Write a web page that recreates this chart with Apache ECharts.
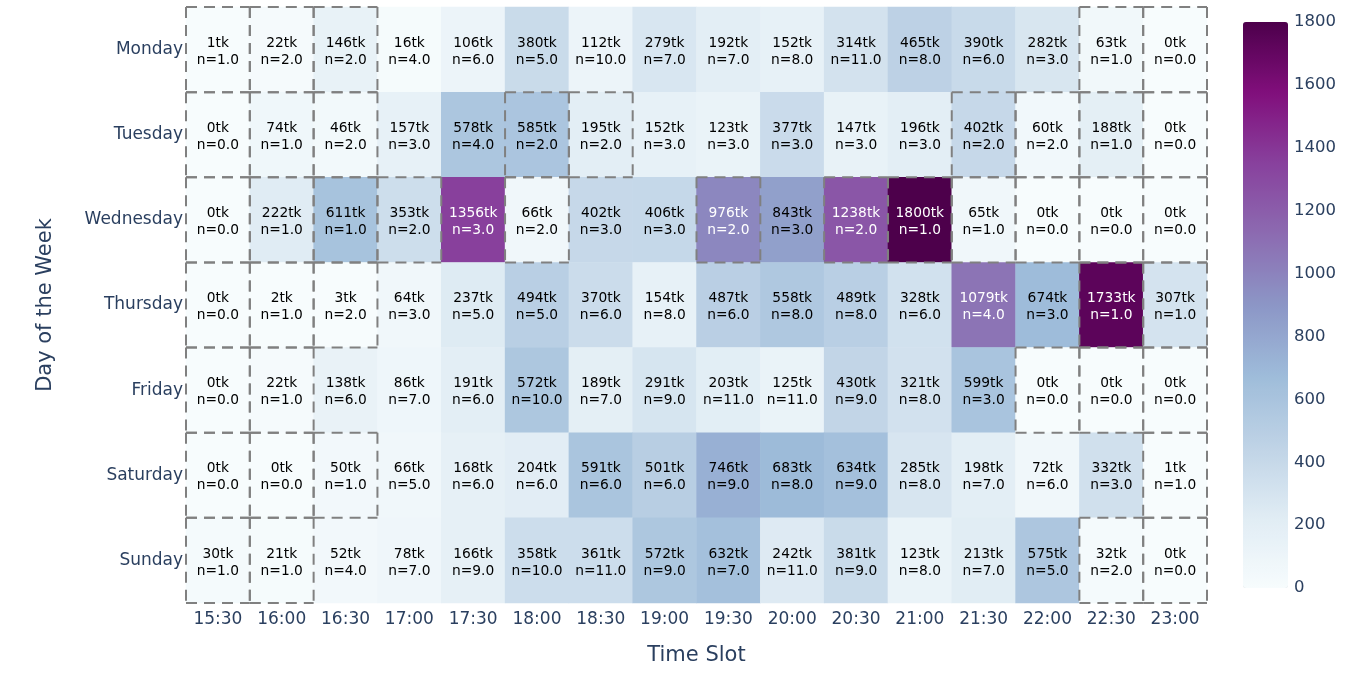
<!DOCTYPE html>
<html>
<head>
<meta charset="utf-8">
<script src="https://cdn.jsdelivr.net/npm/echarts@6/dist/echarts.min.js"></script>
<style>
  html, body { margin: 0; padding: 0; background: #fff; }
  #chart { width: 1348px; height: 678px; }
</style>
</head>
<body>
<div id="chart"></div>
<script>
// time slots along x, days down y
const slots = ['15:30', '16:00', '16:30', '17:00', '17:30', '18:00', '18:30', '19:00',
  '19:30', '20:00', '20:30', '21:00', '21:30', '22:00', '22:30', '23:00']
const days = ['Monday', 'Tuesday', 'Wednesday', 'Thursday', 'Friday', 'Saturday', 'Sunday']

// tokens per cell, one row per day
const tokens = [
  [1, 22, 146, 16, 106, 380, 112, 279, 192, 152, 314, 465, 390, 282, 63, 0],
  [0, 74, 46, 157, 578, 585, 195, 152, 123, 377, 147, 196, 402, 60, 188, 0],
  [0, 222, 611, 353, 1356, 66, 402, 406, 976, 843, 1238, 1800, 65, 0, 0, 0],
  [0, 2, 3, 64, 237, 494, 370, 154, 487, 558, 489, 328, 1079, 674, 1733, 307],
  [0, 22, 138, 86, 191, 572, 189, 291, 203, 125, 430, 321, 599, 0, 0, 0],
  [0, 0, 50, 66, 168, 204, 591, 501, 746, 683, 634, 285, 198, 72, 332, 1],
  [30, 21, 52, 78, 166, 358, 361, 572, 632, 242, 381, 123, 213, 575, 32, 0]
]

// sample counts per cell
const counts = [
  [1, 2, 2, 4, 6, 5, 10, 7, 7, 8, 11, 8, 6, 3, 1, 0],
  [0, 1, 2, 3, 4, 2, 2, 3, 3, 3, 3, 3, 2, 2, 1, 0],
  [0, 1, 1, 2, 3, 2, 3, 3, 2, 3, 2, 1, 1, 0, 0, 0],
  [0, 1, 2, 3, 5, 5, 6, 8, 6, 8, 8, 6, 4, 3, 1, 1],
  [0, 1, 6, 7, 6, 10, 7, 9, 11, 11, 9, 8, 3, 0, 0, 0],
  [0, 0, 1, 5, 6, 6, 6, 6, 9, 8, 9, 8, 7, 6, 3, 1],
  [1, 1, 4, 7, 9, 10, 11, 9, 7, 11, 9, 8, 7, 5, 2, 0]
]

const colorTicks = [0, 200, 400, 600, 800, 1000, 1200, 1400, 1600, 1800]

const BUPU = ['rgb(247,252,253)', 'rgb(224,236,244)', 'rgb(191,211,230)', 'rgb(158,188,218)',
  'rgb(140,150,198)', 'rgb(140,107,177)', 'rgb(136,65,157)', 'rgb(129,15,124)', 'rgb(77,0,75)']
const FONT = 'Verdana, "DejaVu Sans", sans-serif'
const INK = '#2a3f5f'
const LOW_N = 3 // cells with fewer samples get a dashed outline

const cells = []
const sparse = []
days.forEach((d, yi) => {
  slots.forEach((s, xi) => {
    const tk = tokens[yi][xi]
    const n = counts[yi][xi]
    cells.push({
      value: [xi, yi, tk, n],
      label: { color: tk > 900 ? '#fff' : '#000' }
    })
    if (n < LOW_N) sparse.push([xi, yi])
  })
})

const dashStyle = { stroke: '#808080', lineWidth: 2, lineDash: [11, 7] }

const chart = echarts.init(document.getElementById('chart'))

chart.setOption({
  animation: false,
  textStyle: { fontFamily: FONT },
  grid: [
    { left: 186, top: 7, width: 1021, height: 596 },
    { left: 1243, top: 22, width: 45, height: 566 }
  ],
  xAxis: [
    {
      type: 'category',
      data: slots,
      gridIndex: 0,
      name: 'Time Slot',
      nameLocation: 'middle',
      nameGap: 42,
      nameTextStyle: { fontSize: 21, color: INK, fontFamily: FONT },
      axisLine: { show: false },
      axisTick: { show: false },
      axisLabel: { fontSize: 17, color: INK, margin: 8, fontFamily: FONT },
      splitLine: { show: false }
    },
    { type: 'value', gridIndex: 1, show: false }
  ],
  yAxis: [
    {
      type: 'category',
      data: days,
      inverse: true,
      gridIndex: 0,
      name: 'Day of the Week',
      nameLocation: 'middle',
      nameGap: 130,
      nameTextStyle: { fontSize: 21, color: INK, fontFamily: FONT },
      axisLine: { show: false },
      axisTick: { show: false },
      axisLabel: { fontSize: 17, color: INK, margin: 3, padding: [4, 0, 0, 0], fontFamily: FONT },
      splitLine: { show: false }
    },
    {
      type: 'value',
      gridIndex: 1,
      min: 0,
      max: 1800,
      interval: 200,
      position: 'right',
      axisLine: { show: false },
      axisTick: { show: false },
      splitLine: { show: false },
      axisLabel: {
        fontSize: 16.5, color: INK, margin: 6, fontFamily: FONT,
        formatter: v => colorTicks.includes(v) ? String(v) : ''
      }
    }
  ],
  visualMap: {
    type: 'continuous',
    seriesIndex: 0,
    dimension: 2,
    min: 0,
    max: 1800,
    calculable: false,
    orient: 'vertical',
    left: 1243,
    top: 22,
    itemWidth: 45,
    itemHeight: 566,
    padding: 0,
    text: null,
    showLabel: false,
    inRange: { color: BUPU }
  },
  series: [
    {
      type: 'heatmap',
      xAxisIndex: 0,
      yAxisIndex: 0,
      data: cells,
      label: {
        show: true,
        fontSize: 13.8,
        lineHeight: 17,
        offset: [0, 2],
        fontFamily: FONT,
        formatter: p => p.value[2] + 'tk\nn=' + p.value[3].toFixed(1)
      },
      itemStyle: { borderWidth: 0 },
      emphasis: { disabled: true }
    },
    {
      // dashed outline for low-sample cells; each edge drawn left-to-right / top-to-bottom
      // so that shared edges line up
      type: 'custom',
      xAxisIndex: 0,
      yAxisIndex: 0,
      data: sparse,
      silent: true,
      z: 5,
      renderItem: (params, api) => {
        const c = api.coord([api.value(0), api.value(1)])
        const sz = api.size([1, 1])
        const x0 = c[0] - sz[0] / 2, x1 = c[0] + sz[0] / 2
        const y0 = c[1] - sz[1] / 2, y1 = c[1] + sz[1] / 2
        const edge = (a, b, d, e) => ({
          type: 'line',
          shape: { x1: a, y1: b, x2: d, y2: e },
          style: dashStyle
        })
        return {
          type: 'group',
          children: [
            edge(x0, y0, x1, y0),
            edge(x0, y1, x1, y1),
            edge(x0, y0, x0, y1),
            edge(x1, y0, x1, y1)
          ]
        }
      }
    }
  ]
})
</script>
</body>
</html>
